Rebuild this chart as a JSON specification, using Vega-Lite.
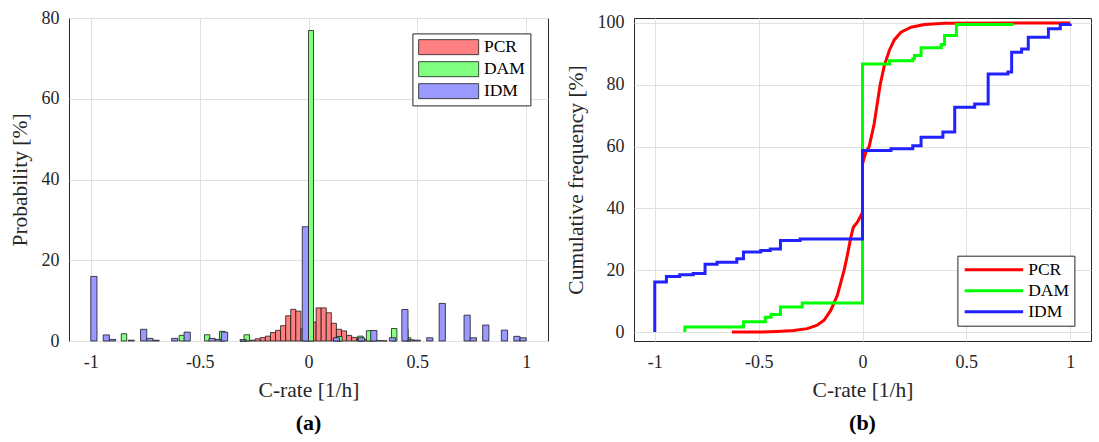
{
  "$schema": "https://vega.github.io/schema/vega-lite/v6.json",
  "padding": {"left": 8, "top": 8, "right": 9, "bottom": 5},
  "background": "white",
  "config": {
    "font": "Liberation Serif",
    "view": {"stroke": "#262626", "strokeWidth": 1},
    "axis": {
      "labelFont": "Liberation Serif", "labelFontSize": 18, "labelColor": "#262626",
      "titleFont": "Liberation Serif", "titleFontSize": 21.5, "titleFontWeight": "normal", "titleColor": "#262626",
      "gridColor": "#e0e0e0", "gridWidth": 1, "domain": false, "ticks": false
    },
    "legend": {
      "labelFont": "Liberation Serif", "labelFontSize": 17.5, "labelColor": "#000000",
      "strokeColor": "#262626", "fillColor": "white", "padding": 5, "rowPadding": 3, "title": null
    },
    "title": {"font": "Liberation Serif", "fontSize": 22, "fontWeight": "bold", "color": "#000000"}
  },
  "datasets": {
    "hist": [
      {"s": "PCR", "x0": -0.3146, "x1": -0.2913, "p": 0.05},
      {"s": "PCR", "x0": -0.2913, "x1": -0.2680, "p": 0.1},
      {"s": "PCR", "x0": -0.2680, "x1": -0.2447, "p": 0.2},
      {"s": "PCR", "x0": -0.2447, "x1": -0.2214, "p": 0.55},
      {"s": "PCR", "x0": -0.2214, "x1": -0.1981, "p": 0.85},
      {"s": "PCR", "x0": -0.1981, "x1": -0.1748, "p": 1.2},
      {"s": "PCR", "x0": -0.1748, "x1": -0.1515, "p": 2.1},
      {"s": "PCR", "x0": -0.1515, "x1": -0.1282, "p": 2.65},
      {"s": "PCR", "x0": -0.1282, "x1": -0.1049, "p": 3.8},
      {"s": "PCR", "x0": -0.1049, "x1": -0.0816, "p": 6.25},
      {"s": "PCR", "x0": -0.0816, "x1": -0.0583, "p": 7.85},
      {"s": "PCR", "x0": -0.0583, "x1": -0.0350, "p": 7.4},
      {"s": "PCR", "x0": -0.0350, "x1": -0.0117, "p": 3.0},
      {"s": "PCR", "x0": -0.0117, "x1": 0.0117, "p": 18},
      {"s": "PCR", "x0": 0.0117, "x1": 0.0350, "p": 4.7},
      {"s": "PCR", "x0": 0.0350, "x1": 0.0583, "p": 8.2},
      {"s": "PCR", "x0": 0.0583, "x1": 0.0816, "p": 8.2},
      {"s": "PCR", "x0": 0.0816, "x1": 0.1049, "p": 7.0},
      {"s": "PCR", "x0": 0.1049, "x1": 0.1282, "p": 4.4},
      {"s": "PCR", "x0": 0.1282, "x1": 0.1515, "p": 2.9},
      {"s": "PCR", "x0": 0.1515, "x1": 0.1748, "p": 2.5},
      {"s": "PCR", "x0": 0.1748, "x1": 0.1981, "p": 1.4},
      {"s": "PCR", "x0": 0.1981, "x1": 0.2214, "p": 0.9},
      {"s": "PCR", "x0": 0.2214, "x1": 0.2447, "p": 0.6},
      {"s": "PCR", "x0": 0.2447, "x1": 0.2680, "p": 0.4},
      {"s": "PCR", "x0": 0.2680, "x1": 0.2913, "p": 0.25},
      {"s": "PCR", "x0": 0.2913, "x1": 0.3146, "p": 0.15},
      {"s": "PCR", "x0": 0.3146, "x1": 0.3379, "p": 0.1},
      {"s": "PCR", "x0": 0.3379, "x1": 0.3612, "p": 0.05},
      {"s": "DAM", "x0": -0.860, "x1": -0.835, "p": 1.8},
      {"s": "DAM", "x0": -0.594, "x1": -0.570, "p": 1.4},
      {"s": "DAM", "x0": -0.478, "x1": -0.453, "p": 1.55},
      {"s": "DAM", "x0": -0.409, "x1": -0.384, "p": 2.4},
      {"s": "DAM", "x0": -0.296, "x1": -0.271, "p": 1.55},
      {"s": "DAM", "x0": 0.000, "x1": 0.023, "p": 76.9},
      {"s": "DAM", "x0": 0.130, "x1": 0.155, "p": 1.1},
      {"s": "DAM", "x0": 0.226, "x1": 0.251, "p": 1.2},
      {"s": "DAM", "x0": 0.266, "x1": 0.291, "p": 2.55},
      {"s": "DAM", "x0": 0.381, "x1": 0.406, "p": 3.1},
      {"s": "DAM", "x0": 0.432, "x1": 0.457, "p": 3.0},
      {"s": "DAM", "x0": 0.457, "x1": 0.470, "p": 0.8},
      {"s": "IDM", "x0": -1.0, "x1": -0.9714, "p": 16.0},
      {"s": "IDM", "x0": -0.9429, "x1": -0.9143, "p": 1.5},
      {"s": "IDM", "x0": -0.9143, "x1": -0.8857, "p": 0.4},
      {"s": "IDM", "x0": -0.8286, "x1": -0.8, "p": 0.2},
      {"s": "IDM", "x0": -0.7714, "x1": -0.7429, "p": 2.9},
      {"s": "IDM", "x0": -0.7429, "x1": -0.7143, "p": 0.65},
      {"s": "IDM", "x0": -0.7143, "x1": -0.6857, "p": 0.2},
      {"s": "IDM", "x0": -0.6286, "x1": -0.6, "p": 0.65},
      {"s": "IDM", "x0": -0.5714, "x1": -0.5429, "p": 2.2},
      {"s": "IDM", "x0": -0.4571, "x1": -0.4286, "p": 0.65},
      {"s": "IDM", "x0": -0.4286, "x1": -0.4, "p": 0.4},
      {"s": "IDM", "x0": -0.4, "x1": -0.3714, "p": 2.2},
      {"s": "IDM", "x0": -0.3143, "x1": -0.2857, "p": 0.35},
      {"s": "IDM", "x0": -0.0286, "x1": 0.0, "p": 28.3},
      {"s": "IDM", "x0": 0.1143, "x1": 0.1429, "p": 0.8},
      {"s": "IDM", "x0": 0.2286, "x1": 0.2571, "p": 0.8},
      {"s": "IDM", "x0": 0.2857, "x1": 0.3143, "p": 2.6},
      {"s": "IDM", "x0": 0.3714, "x1": 0.4, "p": 0.8},
      {"s": "IDM", "x0": 0.4286, "x1": 0.4571, "p": 7.8},
      {"s": "IDM", "x0": 0.4571, "x1": 0.4857, "p": 0.3},
      {"s": "IDM", "x0": 0.4857, "x1": 0.5143, "p": 0.2},
      {"s": "IDM", "x0": 0.5429, "x1": 0.5714, "p": 0.8},
      {"s": "IDM", "x0": 0.6, "x1": 0.6286, "p": 9.3},
      {"s": "IDM", "x0": 0.7143, "x1": 0.7429, "p": 6.4},
      {"s": "IDM", "x0": 0.7429, "x1": 0.7714, "p": 0.8},
      {"s": "IDM", "x0": 0.8, "x1": 0.8286, "p": 3.95},
      {"s": "IDM", "x0": 0.8857, "x1": 0.9143, "p": 2.7},
      {"s": "IDM", "x0": 0.9429, "x1": 0.9714, "p": 1.15},
      {"s": "IDM", "x0": 0.9714, "x1": 1.0, "p": 0.8}
    ],
    "cdf": [
      {"s": "PCR", "i": 1, "x": -0.629, "y": 0},
      {"s": "PCR", "i": 2, "x": -0.492, "y": 0},
      {"s": "PCR", "i": 3, "x": -0.411, "y": 0.2},
      {"s": "PCR", "i": 4, "x": -0.331, "y": 0.5},
      {"s": "PCR", "i": 5, "x": -0.266, "y": 1.1},
      {"s": "PCR", "i": 6, "x": -0.218, "y": 2.2},
      {"s": "PCR", "i": 7, "x": -0.185, "y": 3.8},
      {"s": "PCR", "i": 8, "x": -0.153, "y": 7.0},
      {"s": "PCR", "i": 9, "x": -0.121, "y": 11.9},
      {"s": "PCR", "i": 10, "x": -0.089, "y": 19.9},
      {"s": "PCR", "i": 11, "x": -0.073, "y": 24.8},
      {"s": "PCR", "i": 12, "x": -0.056, "y": 30.7},
      {"s": "PCR", "i": 13, "x": -0.044, "y": 33.9},
      {"s": "PCR", "i": 14, "x": -0.024, "y": 35.6},
      {"s": "PCR", "i": 15, "x": -0.003, "y": 38.3},
      {"s": "PCR", "i": 16, "x": 0.0, "y": 38.3},
      {"s": "PCR", "i": 17, "x": 0.0, "y": 54.4},
      {"s": "PCR", "i": 18, "x": 0.016, "y": 58.2},
      {"s": "PCR", "i": 19, "x": 0.032, "y": 60.0},
      {"s": "PCR", "i": 20, "x": 0.056, "y": 67.3},
      {"s": "PCR", "i": 21, "x": 0.085, "y": 80.0},
      {"s": "PCR", "i": 22, "x": 0.105, "y": 86.2},
      {"s": "PCR", "i": 23, "x": 0.129, "y": 91.1},
      {"s": "PCR", "i": 24, "x": 0.153, "y": 94.5},
      {"s": "PCR", "i": 25, "x": 0.185, "y": 97.0},
      {"s": "PCR", "i": 26, "x": 0.234, "y": 98.6},
      {"s": "PCR", "i": 27, "x": 0.298, "y": 99.5},
      {"s": "PCR", "i": 28, "x": 0.395, "y": 99.9},
      {"s": "PCR", "i": 29, "x": 1.0, "y": 100},
      {"s": "DAM", "i": 1, "x": -0.855, "y": 0},
      {"s": "DAM", "i": 2, "x": -0.855, "y": 1.6},
      {"s": "DAM", "i": 3, "x": -0.573, "y": 3.3},
      {"s": "DAM", "i": 4, "x": -0.468, "y": 4.8},
      {"s": "DAM", "i": 5, "x": -0.44, "y": 5.7},
      {"s": "DAM", "i": 6, "x": -0.395, "y": 8.1},
      {"s": "DAM", "i": 7, "x": -0.29, "y": 9.4},
      {"s": "DAM", "i": 8, "x": 0.0, "y": 86.7},
      {"s": "DAM", "i": 9, "x": 0.13, "y": 87.8},
      {"s": "DAM", "i": 10, "x": 0.242, "y": 88.4},
      {"s": "DAM", "i": 11, "x": 0.25, "y": 89.5},
      {"s": "DAM", "i": 12, "x": 0.282, "y": 92.0},
      {"s": "DAM", "i": 13, "x": 0.379, "y": 93.0},
      {"s": "DAM", "i": 14, "x": 0.395, "y": 95.9},
      {"s": "DAM", "i": 15, "x": 0.452, "y": 99.5},
      {"s": "DAM", "i": 16, "x": 0.72, "y": 100},
      {"s": "IDM", "i": 1, "x": -1.0, "y": 0},
      {"s": "IDM", "i": 2, "x": -1.0, "y": 16.2},
      {"s": "IDM", "i": 3, "x": -0.944, "y": 18.0},
      {"s": "IDM", "i": 4, "x": -0.88, "y": 18.5},
      {"s": "IDM", "i": 5, "x": -0.815, "y": 18.9},
      {"s": "IDM", "i": 6, "x": -0.758, "y": 21.9},
      {"s": "IDM", "i": 7, "x": -0.70, "y": 22.6},
      {"s": "IDM", "i": 8, "x": -0.605, "y": 23.7},
      {"s": "IDM", "i": 9, "x": -0.573, "y": 25.9},
      {"s": "IDM", "i": 10, "x": -0.49, "y": 26.4},
      {"s": "IDM", "i": 11, "x": -0.444, "y": 26.9},
      {"s": "IDM", "i": 12, "x": -0.395, "y": 29.6},
      {"s": "IDM", "i": 13, "x": -0.30, "y": 30.1},
      {"s": "IDM", "i": 14, "x": 0.0, "y": 58.7},
      {"s": "IDM", "i": 15, "x": 0.137, "y": 59.3},
      {"s": "IDM", "i": 16, "x": 0.242, "y": 60.3},
      {"s": "IDM", "i": 17, "x": 0.282, "y": 63.0},
      {"s": "IDM", "i": 18, "x": 0.387, "y": 64.7},
      {"s": "IDM", "i": 19, "x": 0.444, "y": 72.7},
      {"s": "IDM", "i": 20, "x": 0.54, "y": 73.8},
      {"s": "IDM", "i": 21, "x": 0.605, "y": 83.5},
      {"s": "IDM", "i": 22, "x": 0.70, "y": 84.1},
      {"s": "IDM", "i": 23, "x": 0.718, "y": 90.5},
      {"s": "IDM", "i": 24, "x": 0.766, "y": 91.6},
      {"s": "IDM", "i": 25, "x": 0.798, "y": 95.4},
      {"s": "IDM", "i": 26, "x": 0.895, "y": 98.1},
      {"s": "IDM", "i": 27, "x": 0.952, "y": 99.5},
      {"s": "IDM", "i": 28, "x": 1.0, "y": 99.7}
    ]
  },
  "hconcat": [
    {
      "width": 479, "height": 323,
      "title": {"text": "(a)", "orient": "bottom", "offset": 12},
      "data": {"name": "hist"},
      "mark": {"type": "rect", "stroke": "#1a1a1a", "strokeWidth": 0.8},
      "encoding": {
        "x": {"field": "x0", "type": "quantitative",
              "scale": {"domain": [-1.1, 1.1], "nice": false, "zero": false},
              "axis": {"values": [-1, -0.5, 0, 0.5, 1], "title": "C-rate [1/h]", "labelPadding": 12, "titlePadding": 8,
                       "labelExpr": "replace(format(datum.value, '~g'), '\u2212', '-')"}},
        "x2": {"field": "x1"},
        "y": {"field": "p", "type": "quantitative",
              "scale": {"domain": [0, 80], "nice": false},
              "axis": {"values": [0, 20, 40, 60, 80], "title": "Probability [%]", "labelPadding": 10, "titlePadding": 10}},
        "y2": {"datum": 0},
        "color": {"field": "s", "type": "nominal",
                  "scale": {"domain": ["PCR", "DAM", "IDM"], "range": ["#ff8080", "#80ff80", "#9999ff"]},
                  "legend": {"orient": "none", "legendX": 343.4, "legendY": 15.4,
                             "symbolType": "M-4,-1L4,-1L4,1L-4,1Z", "symbolSize": 225,
                             "symbolOffset": 22.5, "labelOffset": 26.5,
                             "symbolStrokeColor": "#1a1a1a", "symbolStrokeWidth": 0.8, "symbolOpacity": 1}}
      }
    },
    {
      "width": 457, "height": 323,
      "title": {"text": "(b)", "orient": "bottom", "offset": 12},
      "data": {"name": "cdf"},
      "encoding": {
        "x": {"field": "x", "type": "quantitative",
              "scale": {"domain": [-1.1, 1.1], "nice": false, "zero": false},
              "axis": {"values": [-1, -0.5, 0, 0.5, 1], "title": "C-rate [1/h]", "labelPadding": 12, "titlePadding": 8,
                       "labelExpr": "replace(format(datum.value, '~g'), '\u2212', '-')"}},
        "y": {"field": "y", "type": "quantitative",
              "scale": {"domain": [-2.9, 101.6], "nice": false, "zero": false},
              "axis": {"values": [0, 20, 40, 60, 80, 100], "title": "Cumulative frequency [%]", "labelPadding": 10, "titlePadding": 10}},
        "order": {"field": "i", "type": "quantitative"},
        "color": {"field": "s", "type": "nominal",
                  "scale": {"domain": ["PCR", "DAM", "IDM"], "range": ["#ff0000", "#00ff00", "#2222ff"]},
                  "legend": {"orient": "none", "legendX": 323.4, "legendY": 237.7,
                             "symbolType": "M-3.9,0L3.9,0", "symbolSize": 225, "symbolStrokeWidth": 3,
                             "symbolOffset": 22.5, "labelOffset": 25.3}}
      },
      "layer": [
        {"transform": [{"filter": "datum.s === 'PCR'"}], "mark": {"type": "line", "strokeWidth": 3}},
        {"transform": [{"filter": "datum.s === 'DAM'"}], "mark": {"type": "line", "strokeWidth": 3, "interpolate": "step-after"}},
        {"transform": [{"filter": "datum.s === 'IDM'"}], "mark": {"type": "line", "strokeWidth": 3, "interpolate": "step-after"}}
      ]
    }
  ],
  "spacing": 86,
  "bounds": "flush",
  "resolve": {"scale": {"color": "independent"}, "legend": {"color": "independent"}}
}
